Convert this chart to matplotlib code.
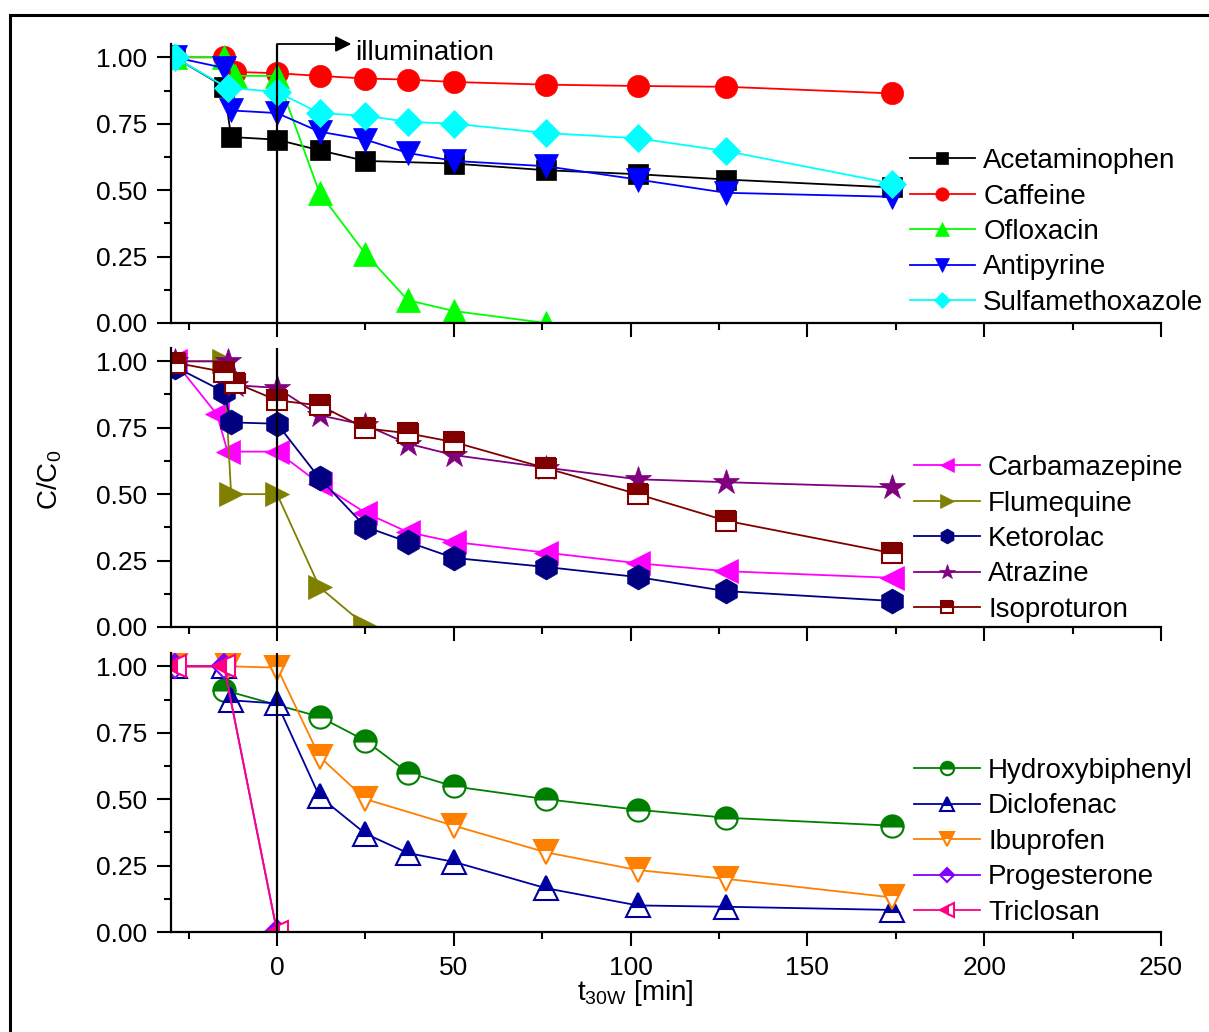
import matplotlib
matplotlib.use("Agg")
import matplotlib.pyplot as plt
from matplotlib.patches import Rectangle
from matplotlib.ticker import MultipleLocator

plt.rcParams['font.family'] = ['Liberation Sans', 'DejaVu Sans']
plt.rcParams['mathtext.default'] = 'regular'

# ---- data ----
# top panel
acet_t = [-29, -15, -13, 0, 12, 25, 50, 76, 102, 127, 174]
acet_c = [1.0, 0.89, 0.70, 0.69, 0.65, 0.61, 0.60, 0.575, 0.56, 0.54, 0.51]
caff_t = [-29, -15, -12, 0, 12, 25, 37, 50, 76, 102, 127, 174]
caff_c = [1.0, 1.0, 0.945, 0.94, 0.93, 0.92, 0.916, 0.907, 0.897, 0.892, 0.889, 0.864]
oflo_t = [-29, -15, -12, 0, 12, 25, 37, 50, 76]
oflo_c = [1.0, 1.0, 0.93, 0.93, 0.49, 0.26, 0.086, 0.045, 0.0]
anti_t = [-29, -15, -13, 0, 12, 25, 37, 50, 76, 102, 127, 174]
anti_c = [1.0, 0.96, 0.80, 0.79, 0.72, 0.69, 0.64, 0.61, 0.59, 0.54, 0.49, 0.475]
sulf_t = [-29, -14, 0, 12, 25, 37, 50, 76, 102, 127, 174]
sulf_c = [1.0, 0.885, 0.87, 0.79, 0.78, 0.757, 0.75, 0.715, 0.695, 0.647, 0.525]

# middle panel
carb_t = [-29, -17, -14, 0, 12, 25, 37, 50, 76, 102, 127, 174]
carb_c = [1.0, 0.80, 0.66, 0.66, 0.54, 0.43, 0.357, 0.32, 0.28, 0.24, 0.21, 0.185]
flum_t = [-29, -15, -13, 0, 12, 25]
flum_c = [1.0, 1.0, 0.50, 0.50, 0.15, 0.005]
keto_t = [-29, -15, -13, 0, 12, 25, 37, 50, 76, 102, 127, 174]
keto_c = [0.98, 0.885, 0.77, 0.765, 0.56, 0.377, 0.32, 0.26, 0.226, 0.188, 0.135, 0.098]
atra_t = [-29, -14, -12, 0, 12, 25, 37, 50, 76, 102, 127, 174]
atra_c = [1.0, 1.0, 0.91, 0.90, 0.797, 0.76, 0.69, 0.647, 0.60, 0.556, 0.545, 0.526]
isop_t = [-29, -15, -12, 0, 12, 25, 37, 50, 76, 102, 127, 174]
isop_c = [0.995, 0.96, 0.92, 0.853, 0.834, 0.748, 0.729, 0.696, 0.598, 0.50, 0.40, 0.278]

# bottom panel
hydr_t = [-15, 12, 25, 37, 50, 76, 102, 127, 174]
hydr_c = [0.91, 0.81, 0.72, 0.60, 0.548, 0.50, 0.46, 0.43, 0.40]
dicl_t = [-29, -15, -13, 0, 12, 25, 37, 50, 76, 102, 127, 174]
dicl_c = [1.0, 1.0, 0.872, 0.86, 0.51, 0.37, 0.297, 0.264, 0.165, 0.10, 0.095, 0.083]
ibup_t = [-29, -14, 0, 12, 25, 50, 76, 102, 127, 174]
ibup_c = [1.0, 1.0, 0.995, 0.66, 0.50, 0.40, 0.30, 0.233, 0.20, 0.13]
prog_t = [-29, -15, 0]
prog_c = [1.0, 1.0, 0.0]
tric_t = [-29, -15, 0]
tric_c = [1.0, 1.0, 0.0]

fig = plt.figure(figsize=(12.09, 10.32), dpi=100)

# frame around the whole picture
fig.patches.append(Rectangle((10 / 1209, -0.01), 1.01, 1 - 15 / 1032 + 0.01,
                             transform=fig.transFigure, fill=False,
                             edgecolor='black', linewidth=2.2))

L, W, H = 171 / 1209, 990 / 1209, 279 / 1032
ax1 = fig.add_axes([L, 1 - 323 / 1032, W, H])
ax2 = fig.add_axes([L, 1 - 627 / 1032, W, H])
ax3 = fig.add_axes([L, 1 - 932 / 1032, W, H])

lw = 1.3
fs = 20


def draw(ax, t, c, color, marker, ms, label, fill='full', alt='white'):
    ax.plot(t, c, color=color, marker=marker, markersize=ms, lw=lw, label=label,
            fillstyle=fill, markerfacecoloralt=alt, markeredgecolor=color,
            markeredgewidth=1.5 if fill != 'full' else 0.5)


draw(ax1, acet_t, acet_c, 'black', 's', 14, 'Acetaminophen')
draw(ax1, caff_t, caff_c, '#ff0000', 'o', 16, 'Caffeine')
draw(ax1, oflo_t, oflo_c, '#00ff00', '^', 17, 'Ofloxacin')
draw(ax1, anti_t, anti_c, '#0000ff', 'v', 17, 'Antipyrine')
draw(ax1, sulf_t, sulf_c, '#00ffff', 'D', 14, 'Sulfamethoxazole')

draw(ax2, carb_t, carb_c, '#ff00ff', '<', 17, 'Carbamazepine')
draw(ax2, flum_t, flum_c, '#808000', '>', 17, 'Flumequine')
draw(ax2, keto_t, keto_c, '#000080', 'h', 18, 'Ketorolac')
draw(ax2, atra_t, atra_c, '#800080', '*', 19, 'Atrazine')
draw(ax2, isop_t, isop_c, '#800000', 's', 14, 'Isoproturon', fill='top')

draw(ax3, hydr_t, hydr_c, '#008000', 'o', 16, 'Hydroxybiphenyl', fill='top')
draw(ax3, dicl_t, dicl_c, '#0000a0', '^', 17, 'Diclofenac', fill='top')
draw(ax3, ibup_t, ibup_c, '#ff8000', 'v', 17, 'Ibuprofen', fill='top')
draw(ax3, prog_t, prog_c, '#8000ff', 'D', 12, 'Progesterone', fill='top')
draw(ax3, tric_t, tric_c, '#ff0080', '<', 16, 'Triclosan', fill='left')

legend_pos = {ax1: (0.746, 0.627), ax2: (0.751, 0.616), ax3: (0.751, 0.624)}

for ax in (ax1, ax2, ax3):
    ax.set_xlim(-30, 250)
    ax.set_ylim(0, 1.05)
    ax.axvline(0, color='black', lw=1.6)
    ax.spines['top'].set_visible(False)
    ax.spines['right'].set_visible(False)
    for s in ('left', 'bottom'):
        ax.spines[s].set_linewidth(1.6)
    ax.xaxis.set_major_locator(MultipleLocator(50))
    ax.xaxis.set_minor_locator(MultipleLocator(25))
    ax.yaxis.set_minor_locator(MultipleLocator(0.125))
    ax.tick_params(which='major', direction='out', length=10, width=1.5,
                   labelsize=19, pad=7)
    ax.tick_params(which='minor', direction='out', length=5, width=1.5)
    ax.set_yticks([0, 0.25, 0.5, 0.75, 1.0])
    ax.set_yticklabels(['0.00', '0.25', '0.50', '0.75', '1.00'])
    ax.legend(loc='upper left', bbox_to_anchor=legend_pos[ax], frameon=False,
              fontsize=fs, handlelength=2.35, handletextpad=0.3,
              labelspacing=0.34, borderpad=0, borderaxespad=0, markerscale=0.6)

ax1.tick_params(labelbottom=False)
ax2.tick_params(labelbottom=False)

ax1.annotate('', xy=(21, 1.05), xytext=(0, 1.05),
             arrowprops=dict(arrowstyle='-|>', color='black', lw=1.3,
                             mutation_scale=24, shrinkA=0, shrinkB=0),
             annotation_clip=False)
ax1.text(22, 1.015, 'illumination', fontsize=fs, va='center', ha='left')

fig.text(50 / 1209, 1 - 480 / 1032, 'C/C$_0$', rotation=90, fontsize=fs,
         va='center', ha='center')
fig.text(635 / 1209, 1 - 993 / 1032, 't$_{30W}$ [min]', fontsize=fs,
         va='center', ha='center')

fig.savefig('out.png', dpi=100)
